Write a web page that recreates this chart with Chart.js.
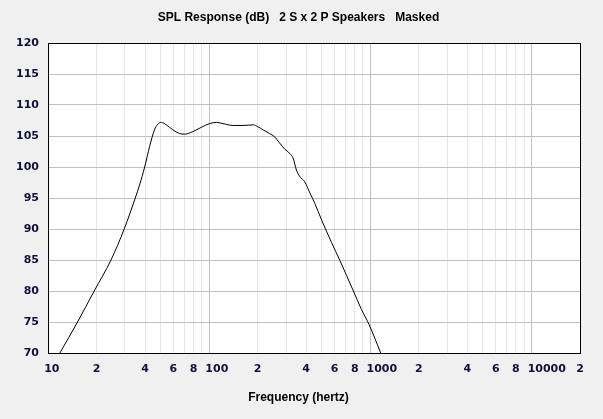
<!DOCTYPE html>
<html><head><meta charset="utf-8">
<script src="https://cdn.jsdelivr.net/npm/chart.js@4"></script>
<style>html,body{margin:0;padding:0;background:#f0f0f0;overflow:hidden}</style>
</head><body>
<canvas id="c" width="603" height="419"></canvas>
<script>
const chartTitle = 'SPL Response (dB)   2 S x 2 P Speakers   Masked';
const xAxisTitle = 'Frequency (hertz)';

const freqHz = [11.85, 15.25, 19.35, 24.6, 29.7, 34.8, 37.0, 39.8, 42.7, 45.8, 48.0, 50.5, 54.2, 59.5, 65.5, 70.3, 79.1, 89.3, 100.6, 111, 121.7, 140.8, 162, 188, 200, 216, 237, 254, 273, 294, 316, 332, 348, 364, 392, 422, 453, 496, 575, 648, 785, 882, 982, 1160];
const splDb  = [70.0, 75.0, 80.0, 85.0, 90.0, 95.0, 97.1, 100.0, 103.3, 106.0, 106.9, 107.2, 106.8, 106.0, 105.4, 105.3, 105.7, 106.4, 107.0, 107.2, 107.0, 106.7, 106.7, 106.8, 106.5, 106.0, 105.4, 104.9, 103.9, 102.9, 102.2, 101.4, 99.5, 98.5, 97.6, 95.8, 94.1, 91.6, 87.8, 84.9, 80.0, 77.0, 74.6, 70.0];

const xTickValues = [10,20,30,40,50,60,70,80,90,100,200,300,400,500,600,700,800,900,1000,2000,3000,4000,5000,6000,7000,8000,9000,10000,20000];
const xTickLabels = ['10','2','','4','','6','','8','','100','2','','4','','6','','8','','1000','2','','4','','6','','8','','10000','2'];
const yMin = 70, yMax = 120, yStep = 5;

const FS = '\u2007';
function padLabel(s){ return s.length > 1 ? FS.repeat(s.length - 1) + s : s; }
function isDecade(v){ const l = Math.log10(v); return Math.abs(l - Math.round(l)) < 1e-9; }

const frame = {
  id: 'frame',
  beforeDraw(chart){
    const {ctx, chartArea:a} = chart;
    ctx.save(); ctx.fillStyle = '#ffffff';
    ctx.fillRect(a.left, a.top, a.right - a.left, a.bottom - a.top);
    ctx.restore();
  },
  afterDraw(chart){
    const {ctx, chartArea:a} = chart;
    ctx.save(); ctx.strokeStyle = '#000000'; ctx.lineWidth = 1;
    const l = Math.round(a.left) + 0.5, t = Math.round(a.top) + 0.5;
    const r = Math.round(a.right) + 0.5, b = Math.round(a.bottom) + 0.5;
    ctx.strokeRect(l, t, r - l, b - t);
    ctx.restore();
  }
};

const tickFont = {family: 'DejaVu Sans', size: 11, weight: 'bold'};
const tickColor = '#10103a';

new Chart(document.getElementById('c'), {
  type: 'line',
  data: {
    datasets: [{
      data: freqHz.map((f, i) => ({x: f, y: splDb[i]})),
      borderColor: '#000000',
      borderWidth: 1,
      pointRadius: 0,
      cubicInterpolationMode: 'monotone',
      fill: false
    }]
  },
  options: {
    responsive: false,
    animation: false,
    devicePixelRatio: 1,
    layout: {padding: {left: 17, right: 23, top: 0, bottom: 0}},
    plugins: {
      legend: {display: false},
      tooltip: {enabled: false},
      title: {
        display: true, text: chartTitle, color: '#000000',
        font: {family: 'Liberation Sans', size: 12, weight: 'bold', lineHeight: 1.2},
        padding: {top: 10, bottom: 18.6}
      },
      subtitle: {
        display: true, text: xAxisTitle, position: 'bottom', color: '#000000',
        font: {family: 'Liberation Sans', size: 12, weight: 'bold', lineHeight: 1.2},
        padding: {top: 0, bottom: 14}
      }
    },
    scales: {
      x: {
        type: 'logarithmic', min: 10, max: 20000,
        afterBuildTicks: s => { s.ticks = xTickValues.map(v => ({value: v})); },
        afterFit: s => { s.height = 37.6; },
        ticks: {
          autoSkip: false, maxRotation: 0, minRotation: 0, padding: 10,
          font: tickFont, color: tickColor,
          callback: (v, i) => padLabel(xTickLabels[i])
        },
        grid: {
          drawTicks: false,
          color: c => (c.tick && isDecade(c.tick.value)) ? '#c0c0c0' : '#e6e6e6',
          lineWidth: 1
        },
        border: {display: false}
      },
      y: {
        type: 'linear', min: yMin, max: yMax,
        afterFit: s => { s.width = 31; },
        ticks: {stepSize: yStep, padding: 9, font: tickFont, color: tickColor},
        grid: {drawTicks: false, color: '#c0c0c0', lineWidth: 1},
        border: {display: false}
      }
    }
  },
  plugins: [frame]
});
</script>
</body></html>
